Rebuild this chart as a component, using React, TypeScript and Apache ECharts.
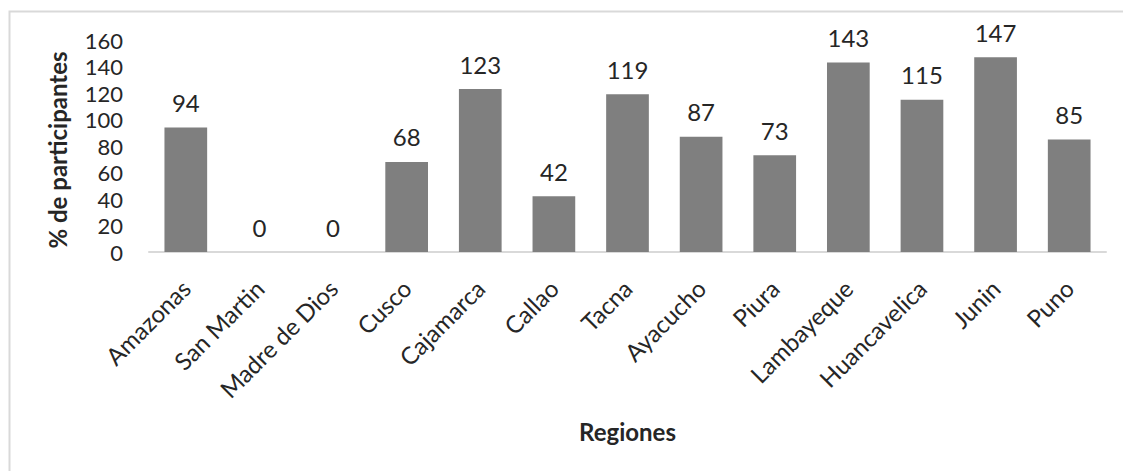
import React, { useEffect, useRef } from "react";
import * as echarts from "echarts";

const categories = [
  "Amazonas", "San Martin", "Madre de Dios", "Cusco", "Cajamarca", "Callao", "Tacna",
  "Ayacucho", "Piura", "Lambayeque", "Huancavelica", "Junin", "Puno",
];
const values = [94, 0, 0, 68, 123, 42, 119, 87, 73, 143, 115, 147, 85];
const yTicks = [0, 20, 40, 60, 80, 100, 120, 140, 160];

const FONT = "Lato";
const TXT = "#262626";

export default function App() {
  const ref = useRef<HTMLDivElement>(null);
  useEffect(() => {
    document.body.style.margin = "0";
    const chart = echarts.init(ref.current!, null, { renderer: "svg" });
    chart.setOption({
      animation: false,
      textStyle: { fontFamily: FONT },
      graphic: [
        {
          type: "rect",
          shape: { x: 9.5, y: 11.5, width: 1300, height: 700 },
          style: { fill: "none", stroke: "#d9d9d9", lineWidth: 2 },
          silent: true,
        },
      ],
      grid: { left: 149, right: 17, top: 40, bottom: 219 },
      xAxis: {
        type: "category",
        data: categories,
        name: "Regiones",
        nameLocation: "middle",
        nameGap: 167,
        nameTextStyle: { fontFamily: FONT, fontSize: 24, fontWeight: "bold", color: TXT },
        axisLine: { show: true, lineStyle: { color: "#d9d9d9", width: 2 } },
        axisTick: { show: false },
        axisLabel: { rotate: 45, margin: 32, fontFamily: FONT, fontSize: 24, color: TXT, interval: 0 },
      },
      yAxis: {
        type: "value",
        min: yTicks[0],
        max: yTicks[yTicks.length - 1],
        interval: 20,
        name: "% de participantes",
        nameLocation: "middle",
        nameRotate: 90,
        nameGap: 80,
        nameTextStyle: {
          fontFamily: FONT,
          fontSize: 24,
          fontWeight: "bold",
          color: TXT,
          padding: [0, 8, 0, 0],
        },
        axisLine: { show: false },
        axisTick: { show: false },
        splitLine: { show: false },
        axisLabel: { margin: 26, fontFamily: FONT, fontSize: 22, color: TXT },
      },
      series: [
        {
          type: "bar",
          data: values,
          barWidth: "58%",
          itemStyle: { color: "#7f7f7f" },
          label: {
            show: true,
            position: "top",
            distance: 13,
            fontFamily: FONT,
            fontSize: 24,
            color: TXT,
          },
        },
      ],
    });
    return () => chart.dispose();
  }, []);
  return <div ref={ref} style={{ width: 1123, height: 471 }} />;
}
